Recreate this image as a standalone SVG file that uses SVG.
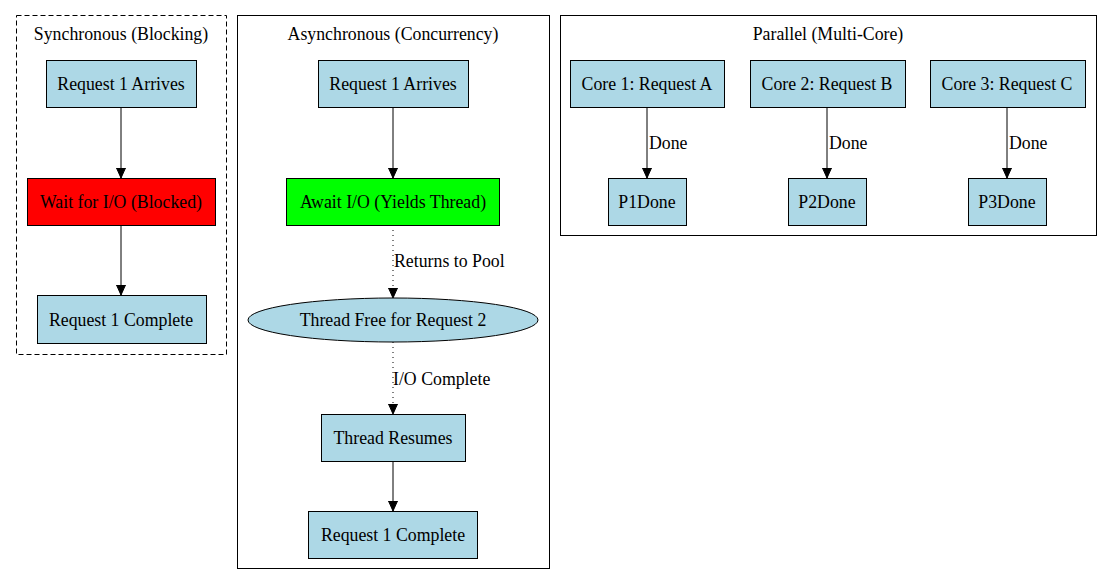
<svg xmlns="http://www.w3.org/2000/svg" width="1112" height="585" viewBox="0 0 1112 585">
<defs>
<marker id="ah" markerWidth="10" markerHeight="10" refX="10" refY="5" orient="auto" markerUnits="userSpaceOnUse"><path d="M0,0.5 L10,5 L0,9.5 Z" fill="#000" stroke="#000"/></marker>
<style>
text{font-family:"Liberation Serif","Times New Roman",serif;font-size:17.8px;fill:#000}
.c{text-anchor:middle}
.n{fill:#add8e6;stroke:#000;stroke-width:1}
.cl{fill:none;stroke:#000;stroke-width:1}
.e{stroke:#000;stroke-width:1;fill:none;marker-end:url(#ah)}
.d{stroke-dasharray:1,4}
</style>
</defs>
<rect width="1112" height="585" fill="#fff"/>
<g id="clusters">
<rect class="cl" x="16.5" y="15.5" width="210" height="339" stroke-dasharray="5,3"/>
<text class="c" x="121" y="40">Synchronous (Blocking)</text>
<rect class="cl" x="237.5" y="15.5" width="312" height="553"/>
<text class="c" x="393" y="40">Asynchronous (Concurrency)</text>
<rect class="cl" x="560.5" y="15.5" width="536" height="220"/>
<text class="c" x="828" y="40">Parallel (Multi-Core)</text>
</g>
<g id="connectors">
<path class="e" d="M121,107 V178"/>
<path class="e" d="M121,225 V295"/>
<path class="e" d="M393,107 V178"/>
<path class="e d" d="M393,225 V298"/>
<text x="394" y="267">Returns to Pool</text>
<path class="e d" d="M393,342 V414"/>
<text x="393" y="385">I/O Complete</text>
<path class="e" d="M647,107 V178"/><text x="649" y="149">Done</text>
<path class="e" d="M827,107 V178"/><text x="829" y="149">Done</text>
<path class="e" d="M1007,107 V178"/><text x="1009" y="149">Done</text>
<path class="e" d="M393,461 V511"/>
</g>
<g id="s1"><rect class="n" x="46.5" y="60.5" width="150" height="47"/><text class="c" x="121" y="90">Request 1 Arrives</text></g>
<g id="s2"><rect x="27.5" y="178.5" width="188" height="47" fill="#ff0000" stroke="#000"/><text class="c" x="121" y="208">Wait for I/O (Blocked)</text></g>
<g id="s3"><rect class="n" x="37.5" y="295.5" width="169" height="48"/><text class="c" x="121" y="326">Request 1 Complete</text></g>
<g id="a1"><rect class="n" x="318.5" y="60.5" width="150" height="47"/><text class="c" x="393" y="90">Request 1 Arrives</text></g>
<g id="a2"><rect x="286.5" y="178.5" width="213" height="47" fill="#00ff00" stroke="#000"/><text class="c" x="393" y="208">Await I/O (Yields Thread)</text></g>
<g id="a3"><ellipse class="n" cx="393" cy="320" rx="145" ry="22"/><text class="c" x="393" y="326">Thread Free for Request 2</text></g>
<g id="a4"><rect class="n" x="321.5" y="414.5" width="144" height="47"/><text class="c" x="393" y="444">Thread Resumes</text></g>
<g id="a5"><rect class="n" x="308.5" y="511.5" width="169" height="47"/><text class="c" x="393" y="541">Request 1 Complete</text></g>
<g id="p1"><rect class="n" x="570.5" y="60.5" width="154" height="47"/><text class="c" x="647" y="90">Core 1: Request A</text></g>
<g id="p2"><rect class="n" x="750.5" y="60.5" width="155" height="47"/><text class="c" x="827" y="90">Core 2: Request B</text></g>
<g id="p3"><rect class="n" x="930.5" y="60.5" width="155" height="47"/><text class="c" x="1007" y="90">Core 3: Request C</text></g>
<g id="d1"><rect class="n" x="608.5" y="178.5" width="78" height="47"/><text class="c" x="647" y="208">P1Done</text></g>
<g id="d2"><rect class="n" x="788.5" y="178.5" width="78" height="47"/><text class="c" x="827" y="208">P2Done</text></g>
<g id="d3"><rect class="n" x="968.5" y="178.5" width="78" height="47"/><text class="c" x="1007" y="208">P3Done</text></g>
</svg>
